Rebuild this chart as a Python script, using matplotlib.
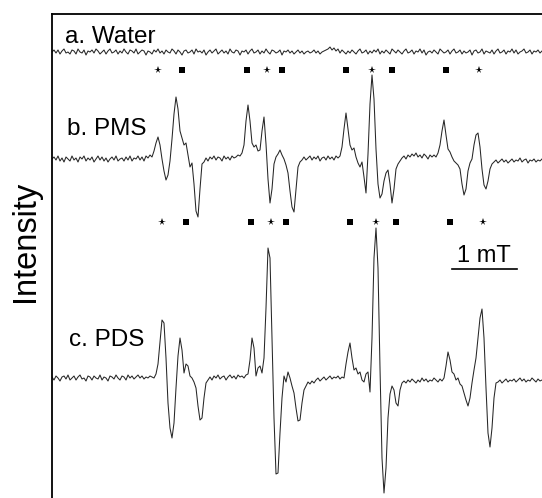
import numpy as np
import matplotlib
matplotlib.use('Agg')
import matplotlib.pyplot as plt

plt.rcParams['font.family'] = ['Liberation Sans', 'DejaVu Sans']

# sweep: one sample every FIELD_STEP mT, starting at the left frame
FIELD_STEP = 2 / 65.0

# intensity (arb. units, relative to each baseline)
water = [
    0, 2, -1, 2, -2, 1, 3, -1, 0, -2,
    2, 1, -2, 3, 0, -1, 2, -3, 1, 0,
    2, -1, 3, 1, -2, 0, 2, -2, 1, 3,
    -1, 0, 2, -2, 1, -1, 3, 0, -2, 2,
    1, -1, 3, -2, 0, 2, 1, -3, 1, 0,
    -2, 2, 0, 3, -1, 1, -2, 2, 0, -1,
    3, 1, -2, 2, 0, -3, 1, 2, -1, 0,
    2, -2, 3, 0, 1, -1, 2, -3, 0, 2,
    -1, 1, 3, -2, 0, 2, -1, 1, -2, 3,
    0, -1, 2, 1, -3, 1, 0, 2, -2, 1,
    3, -1, 0, 2, -2, 1, -1, 3, 0, -2,
    2, 1, -1, 0, 2, -3, 1, 0, 2, -1,
    1, -2, 0, 2, -1, 1, -2, 0, 1, -1,
    0, 2, -1, 1, -2, 0, 1, 2, 3, 5,
    2, 4, 1, 3, -1, 2, 0, -2, 1, -1,
    2, 0, -2, 1, 3, -1, 0, 2, -2, 1,
    -1, 2, 0, 3, -2, 1, -1, 2, 0, -2,
    3, 1, -1, 2, 0, -2, 1, 3, -1, 0,
    2, -2, 1, 0, 3, -1, 2, -3, 0, 1,
    -1, 2, 0, -2, 3, 1, -1, 0, 2, -2,
    1, 3, -1, 0, 2, -2, 1, -1, 0, 2,
    -3, 1, 2, -1, 0, 3, -2, 1, 0, -1,
    2, -2, 1, 3, -1, 0, 2, -2, 1, 0,
    3, -1, 2, -2, 0, 1, 3, -1, 0, 2,
    -2, 1, 0, 2, -1, 1,
]

pms = [
    0, 2, -1, 3, -2, 1, -3, 2, 0, -2,
    3, -1, 1, -3, 2, 0, 3, -2, 1, -1,
    2, -3, 0, 3, -1, 2, -2, 1, -3, 0,
    2, -1, 3, -2, 0, 1, -2, 2, -1, 3,
    -2, 1, 0, 3, -1, 2, -2, 3, 1, 4,
    2, 8, 16, 22, 14, 0, -12, -21, -16, -2,
    20, 45, 62, 50, 28, 21, 14, 16, 4, -8,
    -4, -25, -52, -58, -30, -5, -3, 1, -2, 2,
    0, 3, -1, 2, 1, -2, 3, 0, 2, -1,
    3, 1, 2, 4, 3, 6, 14, 38, 54, 38,
    16, 12, 14, 8, 9, 28, 42, 15, -20, -44,
    -30, -5, 2, 5, 9, 4, 0, -6, -14, -32,
    -48, -53, -30, -8, -3, -1, 2, -1, 1, 3,
    -1, 2, 0, 3, -2, 1, 2, -1, 3, 0,
    2, -1, 3, 1, 3, 12, 30, 46, 30, 14,
    9, 11, 2, -4, -8, -3, -18, -34, 5, 55,
    84, 60, 10, -25, -39, -35, -22, -14, -11, -25,
    -44, -30, -10, -5, -2, 1, 3, 0, 4, 2,
    5, 3, 6, 2, 4, 1, 5, 3, 0, 4,
    2, 4, 2, 6, 14, 28, 39, 24, 10, 7,
    2, -2, -4, -6, -10, -25, -36, -30, -12, -4,
    0, 14, 24, 26, 12, -10, -26, -30, -22, -10,
    -5, -3, -1, -4, -2, 0, -3, -1, -4, -2,
    0, -3, -1, -2, 1, -3, -1, 0, -4, -1,
    -2, 0, -3, -1, -2, 0,
]

pds = [
    1, -2, 2, 0, -3, 1, 2, -1, 3, -2,
    0, 2, -2, 1, 3, -1, 0, -3, 2, 1,
    -2, 2, 0, -1, 3, -2, 1, 0, -3, 2,
    1, -1, 3, 0, -2, 2, 1, -2, 3, 0,
    2, -1, 1, 3, 0, 2, -1, 1, 0, 2,
    1, 0, 4, 14, 36, 58, 55, 20, -25, -50,
    -60, -45, -10, 22, 40, 28, 5, 14, 12, 2,
    0, -4, -10, -28, -42, -40, -20, -5, -2, 1,
    -2, 2, 0, 3, -1, 1, 2, -2, 1, 3,
    0, 2, -1, 3, 1, 2, 0, 3, 4, 18,
    40, 30, 2, 10, 12, 5, 20, 70, 130, 120,
    40, -40, -96, -95, -55, -20, 2, -4, 6, 0,
    -8, -15, -30, -43, -42, -25, -12, -8, -4, -6,
    -3, -5, -2, 0, -3, -1, 1, -2, 0, 2,
    -1, 1, 0, 2, -1, 1, 0, 14, 26, 35,
    20, 8, 10, 4, 6, -2, -4, 4, 6, -14,
    40, 120, 150, 110, 10, -80, -115, -90, -40, -16,
    -8, -12, -25, -28, -12, -5, -3, -5, -2, -4,
    -1, -3, -5, -2, -4, 0, -3, -1, -4, -2,
    -3, 0, -2, -4, -1, -3, 0, 12, 26, 18,
    6, 4, -2, 0, -6, -8, -15, -22, -28, -20,
    -5, 8, 20, 40, 60, 69, 40, -10, -55, -69,
    -50, -20, -5, -4, -2, -5, -3, -1, -4, -2,
    -3, -1, -4, -2, 0, -3, -1, -4, -2, -3,
    0, -2, -4, -1, -3, -2,
]

labels = ['a. Water', 'b. PMS', 'c. PDS']

# line positions (mT) of the two adducts, marked above traces b and c
stars_b = [1.63, 3.31, 4.92, 6.57]
squares_b = [2.00, 3.00, 3.54, 4.52, 5.23, 6.06]
stars_c = [1.69, 3.37, 4.98, 6.63]
squares_c = [2.06, 3.06, 3.60, 4.58, 5.29, 6.12]

fig = plt.figure(figsize=(5.42, 4.98), dpi=100)
ax = fig.add_axes([52 / 542, 0, 490 / 542, 484 / 498])

offsets = [446, 339, 120]
line_kw = dict(color='#262626', lw=0.75)
for trace, off in zip([water, pms, pds], offsets):
    field = FIELD_STEP * np.arange(len(trace))
    ax.plot(field, np.array(trace) + off, **line_kw)

# trace labels
ax.text(0.20, 461, labels[0], fontsize=17.5, va='center', ha='left')
ax.text(0.23, 369, labels[1], fontsize=17.5, va='center', ha='left')
ax.text(0.26, 158, labels[2], fontsize=17.5, va='center', ha='left')

# markers
ax.plot(stars_b, [428] * len(stars_b), '*', color='k', ms=5.5, mew=0)
ax.plot(squares_b, [428] * len(squares_b), 's', color='k', ms=3.8, mew=0)
ax.plot(stars_c, [276] * len(stars_c), '*', color='k', ms=5.5, mew=0)
ax.plot(squares_c, [276] * len(squares_c), 's', color='k', ms=3.8, mew=0)

# 1 mT scale bar
ax.plot([6.15, 7.15], [229, 229], color='k', lw=1.2)
ax.text(6.65, 236, '1 mT', fontsize=17, ha='center', va='baseline')

ax.set_xlim(0, 490 / 65)
ax.set_ylim(0, 484)
ax.set_xticks([])
ax.set_yticks([])
for side in ['right', 'bottom']:
    ax.spines[side].set_visible(False)
for side in ['left', 'top']:
    ax.spines[side].set_linewidth(1.3)

fig.text(25 / 542, 1 - 241 / 498, 'Intensity', rotation=90, fontsize=23.5,
         ha='center', va='center')

fig.savefig('out.png', dpi=100)
